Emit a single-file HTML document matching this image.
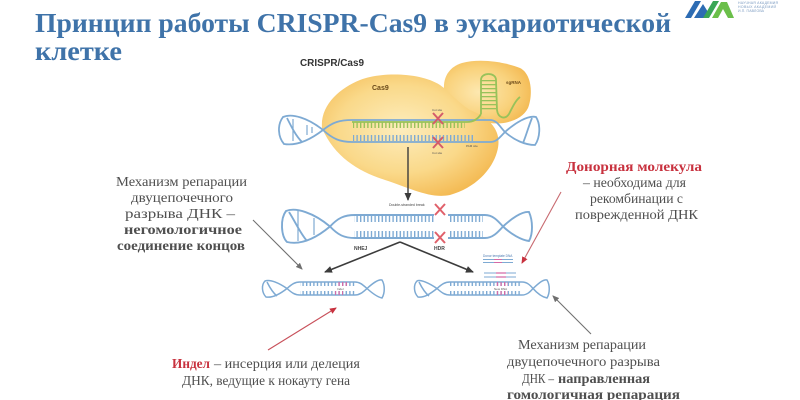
<!DOCTYPE html>
<html><head><meta charset="utf-8">
<style>
html,body{margin:0;padding:0;background:#fff;}
svg{display:block;}
.t{font-family:"Liberation Serif","Noto Serif CJK SC",serif;font-size:14px;fill:#4f4f4f;}
.b{font-weight:bold;}
.r{fill:#c8323f;font-weight:bold;}
.s{font-family:"Liberation Sans",sans-serif;}
</style></head>
<body>
<svg width="800" height="400" viewBox="0 0 800 400" xmlns="http://www.w3.org/2000/svg">
<defs>
  <radialGradient id="gb" cx="45%" cy="45%" r="60%">
    <stop offset="0" stop-color="#fdedbd"/>
    <stop offset="0.6" stop-color="#fad98a"/>
    <stop offset="1" stop-color="#f4bb55"/>
  </radialGradient>
  <radialGradient id="gs" cx="40%" cy="50%" r="65%">
    <stop offset="0" stop-color="#fde8b0"/>
    <stop offset="0.6" stop-color="#f9d27c"/>
    <stop offset="1" stop-color="#f3b850"/>
  </radialGradient>
  <pattern id="tb" width="3.6" height="40" patternUnits="userSpaceOnUse"><rect width="1.4" height="40" fill="#7eaad3"/></pattern>
  <pattern id="tg" width="3.6" height="40" patternUnits="userSpaceOnUse"><rect width="1.4" height="40" fill="#98c25a"/></pattern>
  <pattern id="tp" width="3.6" height="40" patternUnits="userSpaceOnUse"><rect width="1.3" height="40" fill="#d46aa6"/></pattern>
  <pattern id="rg" width="40" height="4" patternUnits="userSpaceOnUse"><rect width="40" height="1.3" fill="#98c25a"/></pattern>
  <marker id="ad" markerWidth="9" markerHeight="9" refX="7" refY="4.5" orient="auto" markerUnits="userSpaceOnUse"><path d="M0,1 L8,4.5 L0,8 Z" fill="#3c3c3c"/></marker>
  <marker id="ag" markerWidth="8" markerHeight="8" refX="6" refY="4" orient="auto" markerUnits="userSpaceOnUse"><path d="M0,1 L7,4 L0,7 Z" fill="#6f6f6f"/></marker>
  <marker id="ar" markerWidth="8" markerHeight="8" refX="6" refY="4" orient="auto" markerUnits="userSpaceOnUse"><path d="M0,1 L7,4 L0,7 Z" fill="#c8323f"/></marker>
</defs>

<!-- Title -->
<text x="35" y="32" font-family="Liberation Serif, serif" font-weight="bold" font-size="27" fill="#3f73a9" textLength="636" lengthAdjust="spacingAndGlyphs">Принцип работы CRISPR-Cas9 в эукариотической</text>
<text x="35" y="60" font-family="Liberation Serif, serif" font-weight="bold" font-size="27" fill="#3f73a9" textLength="87" lengthAdjust="spacingAndGlyphs">клетке</text>

<!-- Logo -->
<polygon points="685,18 695,1 701,1 691,18" fill="#2d6cb3"/>
<polygon points="694,18 703,4 708,12 705,18" fill="#2d6cb3"/>
<polygon points="703,18 713,1 719,1 709,18" fill="#3aa655"/>
<polygon points="712,18 721,2 727,2 734,18 728,18 723,9 718,18" fill="#6bbf4a"/>
<text x="738" y="4" font-family="Liberation Sans, sans-serif" font-size="3.5" fill="#7a9ac0" textLength="40">НАУЧНАЯ АКАДЕМИЯ</text>
<text x="738" y="8" font-family="Liberation Sans, sans-serif" font-size="3.5" fill="#7a9ac0" textLength="38">НОВЫХ АКАДЕМИЙ</text>
<text x="738" y="12" font-family="Liberation Sans, sans-serif" font-size="3.5" fill="#7a9ac0" textLength="26">И.П. ПАВЛОВА</text>

<!-- CRISPR/Cas9 label -->
<text x="300" y="66" class="s" font-weight="bold" font-size="10" fill="#333" textLength="64" lengthAdjust="spacingAndGlyphs">CRISPR/Cas9</text>

<!-- Blobs -->
<path d="M447 100 C440 85 445 68 462 63 C480 58 505 62 520 68 C532 74 533 95 528 108 C522 120 505 125 490 123 C470 120 455 112 447 100 Z" fill="url(#gs)"/>
<path d="M322 128 C320 105 340 88 360 80 C380 72 420 72 440 85 C450 92 455 100 470 110 C495 120 502 135 497 152 C492 170 475 188 450 195 C430 199 410 188 385 180 C360 172 335 158 322 128 Z" fill="url(#gb)"/>
<text x="372" y="90" class="s" font-weight="bold" font-size="7" fill="#6b4a1a">Cas9</text>
<text x="506" y="84" class="s" font-weight="bold" font-size="4.5" fill="#6b4a1a">sgRNA</text>

<!-- Top DNA -->
<g fill="none" stroke="#7eaad3" stroke-width="1.8">
  <path d="M323 130 C308 118 292 113 283 117 C277 125 278 137 284 144 C296 146 310 140 323 130"/>
  <path d="M287 118 C292 128 296 136 302 142"/>
  <path d="M323 130 C333 122 340 120 352 120 L490 120 C497 120 500 127 505 132"/>
  <path d="M323 130 C333 139 340 142 352 142 L490 142 C497 142 500 137 505 132"/>
  <path d="M505 132 C515 123 528 115 536 117 C541 125 540 138 535 145 C525 145 514 140 505 132"/>
  <path d="M532 118 C528 128 526 136 523 143"/>
</g>
<g stroke="#7eaad3" stroke-width="1.2"><line x1="307" y1="125" x2="307" y2="135"/><line x1="312" y1="127" x2="312" y2="133"/><line x1="293" y1="119" x2="293" y2="141"/></g>
<rect x="353" y="135" width="120" height="6" fill="url(#tb)"/>
<path d="M352 122 L467 122 C474 122 478 119 481 114" fill="none" stroke="#98c25a" stroke-width="1.8"/>
<rect x="353" y="122" width="112" height="6" fill="url(#tg)"/>
<!-- hairpin -->
<path d="M481 114 L481 80 C481 72 496 72 496 80 L497 110 C498 118 505 120 509 114 C513 106 516 100 520 97" fill="none" stroke="#98c25a" stroke-width="1.8"/>
<rect x="481" y="80" width="15" height="32" fill="url(#rg)"/>
<!-- red X top -->
<g stroke="#d45b6a" stroke-width="2"><line x1="433" y1="113" x2="443" y2="124"/><line x1="443" y1="113" x2="433" y2="124"/><line x1="433" y1="137" x2="443" y2="148"/><line x1="443" y1="137" x2="433" y2="148"/></g>
<text x="432" y="111" class="s" font-size="3" fill="#555">Cut site</text>
<text x="432" y="154" class="s" font-size="3" fill="#555">Cut site</text>
<text x="466" y="147" class="s" font-size="3" fill="#555">PAM site</text>

<!-- vertical arrow -->
<line x1="408" y1="147" x2="408" y2="200" stroke="#3c3c3c" stroke-width="1.4" marker-end="url(#ad)"/>
<text x="389" y="206" class="s" font-size="3.5" fill="#444">Double-stranded break</text>

<!-- Middle DNA -->
<g fill="none" stroke="#7eaad3" stroke-width="1.9">
  <path d="M330 226.5 C314 213 296 207 286 211 C280 219 281 236 287 242 C300 245 315 239 330 226.5"/>
  <path d="M289 212 C296 223 300 233 307 241"/>
  <path d="M330 226.5 C338 218 344 215 355 215 L434 215"/>
  <path d="M448 215 L485 215 C493 215 498 221 503 226.5"/>
  <path d="M330 226.5 C338 235 344 238 355 238 L434 238"/>
  <path d="M448 238 L485 238 C493 238 498 232 503 226.5"/>
  <path d="M503 226.5 C511 219 522 211 529 212 C533 221 533 234 529 241 C521 240 511 234 503 226.5"/>
</g>
<g stroke="#7eaad3" stroke-width="1.2"><line x1="298" y1="211" x2="298" y2="241"/><line x1="314" y1="218" x2="314" y2="235"/></g>
<rect x="354" y="215" width="80" height="7" fill="url(#tb)"/>
<rect x="449" y="215" width="34" height="7" fill="url(#tb)"/>
<rect x="354" y="231" width="80" height="7" fill="url(#tb)"/>
<rect x="449" y="231" width="34" height="7" fill="url(#tb)"/>
<g stroke="#e0606a" stroke-width="2"><line x1="435" y1="204" x2="445" y2="215"/><line x1="445" y1="204" x2="435" y2="215"/><line x1="435" y1="232" x2="445" y2="243"/><line x1="445" y1="232" x2="435" y2="243"/></g>
<text x="354" y="250" class="s" font-weight="bold" font-size="5" fill="#444">NHEJ</text>
<text x="434" y="250" class="s" font-weight="bold" font-size="5" fill="#444">HDR</text>

<!-- NHEJ/HDR arrows -->
<line x1="400" y1="242" x2="325" y2="272" stroke="#3c3c3c" stroke-width="1.6" marker-end="url(#ad)"/>
<line x1="400" y1="242" x2="473" y2="272" stroke="#3c3c3c" stroke-width="1.6" marker-end="url(#ad)"/>

<!-- Bottom-left DNA -->
<g fill="none" stroke="#7eaad3" stroke-width="1.5">
  <path d="M287 288.5 C279 283 270 279 265 281 C261 285 262 293 266 297 C272 298 280 294 287 288.5"/>
  <path d="M267 282 C270 288 273 293 277 296"/>
  <path d="M287 288.5 C292 284 295 282 300 282 L355 282 C360 282 363 285 367 288.5"/>
  <path d="M287 288.5 C292 293 295 295 300 295 L355 295 C360 295 363 292 367 288.5"/>
  <path d="M367 288.5 C372 284 378 279 382 280 C385 285 385 293 382 298 C377 297 372 293 367 288.5"/>
</g>
<rect x="300" y="282" width="55" height="4" fill="url(#tb)"/>
<rect x="300" y="291" width="55" height="4" fill="url(#tb)"/>
<rect x="337" y="282" width="11" height="4" fill="url(#tp)"/>
<rect x="335" y="291" width="8" height="4" fill="url(#tp)"/>
<text x="337" y="290" class="s" font-size="3" fill="#555">Indel</text>

<!-- Bottom-right DNA -->
<g fill="none" stroke="#7eaad3" stroke-width="1.5">
  <path d="M437 288.5 C429 283 420 279 417 281 C413 285 414 293 418 297 C424 298 430 294 437 288.5"/>
  <path d="M419 282 C422 288 425 293 429 296"/>
  <path d="M437 288.5 C442 284 445 282 450 282 L522 282 C527 282 530 285 533 288.5"/>
  <path d="M437 288.5 C442 293 445 295 450 295 L522 295 C527 295 530 292 533 288.5"/>
  <path d="M533 288.5 C538 284 543 279 547 280 C550 285 550 293 547 298 C542 297 537 293 533 288.5"/>
</g>
<rect x="450" y="282" width="72" height="4" fill="url(#tb)"/>
<rect x="450" y="291" width="72" height="4" fill="url(#tb)"/>
<rect x="496" y="282" width="12" height="4" fill="url(#tp)"/>
<rect x="496" y="291" width="12" height="4" fill="url(#tp)"/>
<path d="M484 273 L516 273 M484 277 L516 277" stroke="#7eaad3" stroke-width="1"/>
<path d="M496 273 L506 273 M496 277 L506 277" stroke="#d46aa6" stroke-width="1.2"/>
<text x="494" y="290" class="s" font-size="3" fill="#555">New DNA</text>
<!-- donor template -->
<text x="483" y="257" class="s" font-size="3.2" fill="#4a78b0">Donor template DNA</text>
<path d="M483 259.5 L513 259.5 M483 262.5 L513 262.5" stroke="#7eaad3" stroke-width="1"/>
<path d="M494 259.5 L502 259.5 M494 262.5 L502 262.5" stroke="#d46aa6" stroke-width="1.1"/>

<!-- Pointer lines -->
<line x1="253" y1="220" x2="302" y2="269" stroke="#707070" stroke-width="1.1" marker-end="url(#ag)"/>
<line x1="561" y1="192" x2="522" y2="263" stroke="#c86a70" stroke-width="1.1" marker-end="url(#ar)"/>
<line x1="268" y1="350" x2="336" y2="308" stroke="#c8505a" stroke-width="1.1" marker-end="url(#ar)"/>
<line x1="591" y1="334" x2="553" y2="296" stroke="#707070" stroke-width="1.1" marker-end="url(#ag)"/>

<!-- Left text block -->
<text class="t" x="116" y="186" textLength="131" lengthAdjust="spacingAndGlyphs">Механизм репарации</text>
<text class="t" x="131" y="202" textLength="102" lengthAdjust="spacingAndGlyphs">двуцепочечного</text>
<text class="t" x="125" y="218" textLength="110" lengthAdjust="spacingAndGlyphs">разрыва ДНК –</text>
<text class="t b" x="124" y="234" textLength="118" lengthAdjust="spacingAndGlyphs">негомологичное</text>
<text class="t b" x="117" y="250" textLength="128" lengthAdjust="spacingAndGlyphs">соединение концов</text>

<!-- Right top text block -->
<text class="t r" x="566" y="171" textLength="136" lengthAdjust="spacingAndGlyphs">Донорная молекула</text>
<text class="t" x="583" y="187" textLength="103" lengthAdjust="spacingAndGlyphs">– необходима для</text>
<text class="t" x="590" y="203" textLength="93" lengthAdjust="spacingAndGlyphs">рекомбинации с</text>
<text class="t" x="575" y="219" textLength="123" lengthAdjust="spacingAndGlyphs">поврежденной ДНК</text>

<!-- Bottom-left text -->
<text class="t r" x="172" y="368" textLength="38" lengthAdjust="spacingAndGlyphs">Индел</text>
<text class="t" x="214" y="368" textLength="146" lengthAdjust="spacingAndGlyphs">– инсерция или делеция</text>
<text class="t" x="182" y="385" textLength="168" lengthAdjust="spacingAndGlyphs">ДНК, ведущие к нокауту гена</text>

<!-- Bottom-right text -->
<text class="t" x="518" y="349" textLength="128" lengthAdjust="spacingAndGlyphs">Механизм репарации</text>
<text class="t" x="507" y="366" textLength="153" lengthAdjust="spacingAndGlyphs">двуцепочечного разрыва</text>
<text class="t" x="522" y="383" textLength="32" lengthAdjust="spacingAndGlyphs">ДНК –</text>
<text class="t b" x="558" y="383" textLength="92" lengthAdjust="spacingAndGlyphs">направленная</text>
<text class="t b" x="507" y="399" textLength="173" lengthAdjust="spacingAndGlyphs">гомологичная репарация</text>
</svg>
</body></html>
